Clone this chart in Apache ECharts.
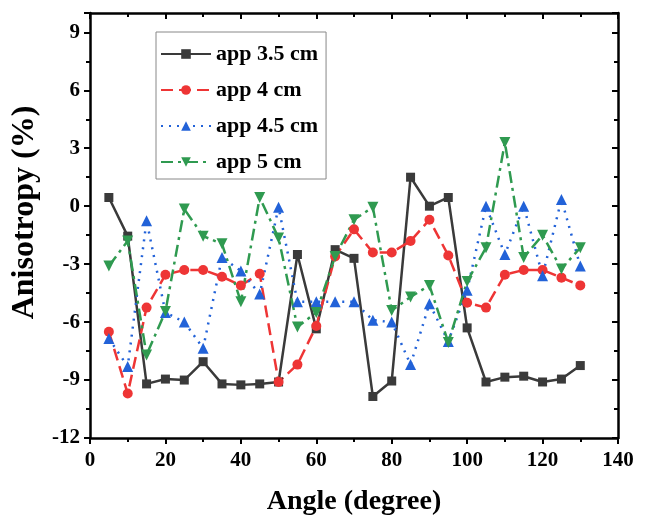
<!DOCTYPE html>
<html>
<head>
<meta charset="utf-8">
<script src="https://cdn.jsdelivr.net/npm/echarts@6/dist/echarts.min.js"></script>
<style>
  html, body { margin: 0; padding: 0; background: #fff; }
  #chart { width: 646px; height: 521px; }
</style>
</head>
<body>
<div id="chart"></div>
<script>
// angle (degree)
var angles = [5, 10, 15, 20, 25, 30, 35, 40, 45, 50, 55, 60, 65, 70, 75, 80, 85, 90, 95, 100, 105, 110, 115, 120, 125, 130];

// anisotropy (%)
var app35 = [0.45, -1.55, -9.2, -8.95, -9.0, -8.05, -9.2, -9.25, -9.2, -9.1, -2.5, -6.35, -2.25, -2.7, -9.85, -9.05, 1.5, 0.0, 0.45, -6.3, -9.1, -8.85, -8.8, -9.1, -8.95, -8.25];
var app4 = [-6.5, -9.7, -5.25, -3.55, -3.3, -3.3, -3.65, -4.1, -3.5, -9.1, -8.2, -6.2, -2.6, -1.2, -2.4, -2.4, -1.8, -0.7, -2.55, -5.0, -5.25, -3.55, -3.3, -3.3, -3.7, -4.1];
var app45 = [-6.85, -8.3, -0.75, -5.5, -6.0, -7.35, -2.65, -3.35, -4.55, -0.05, -4.95, -4.95, -4.95, -4.95, -5.9, -6.0, -8.2, -5.05, -7.0, -4.35, 0.0, -2.5, 0.0, -3.6, 0.35, -3.1];
var app5 = [-3.1, -1.8, -7.7, -5.45, -0.15, -1.55, -1.95, -4.95, 0.45, -1.65, -6.25, -5.5, -2.6, -0.7, -0.05, -5.4, -4.7, -4.1, -7.05, -3.9, -2.15, 3.3, -2.65, -1.5, -3.25, -2.15];

function pairs(x, y) {
  var out = [];
  for (var i = 0; i < x.length; i++) out.push([x[i], y[i]]);
  return out;
}

var font = "'Liberation Serif', 'Times New Roman', serif";

function makeSeries(name, values, color, dash, symbol, size, rotate) {
  return {
    name: name,
    type: "line",
    data: pairs(angles, values),
    symbol: symbol,
    symbolSize: size,
    symbolRotate: rotate || 0,
    itemStyle: { color: color },
    lineStyle: { color: color, width: 2.5, type: dash },
  };
}

function frameAxis(extra) {
  var ax = {
    type: "value",
    axisLine: { show: true, onZero: false, lineStyle: { color: "#000", width: 2.5 } },
    axisTick: { show: true, inside: true, length: 6, lineStyle: { width: 2 } },
    minorTick: { show: true, splitNumber: 2, length: 4, lineStyle: { color: "#000", width: 2 } },
    axisLabel: { show: false },
    splitLine: { show: false },
  };
  for (var k in extra) ax[k] = extra[k];
  return ax;
}

var chart = echarts.init(document.getElementById("chart"), null, { renderer: "canvas" });

var option = {
  animation: false,
  backgroundColor: "#fff",
  grid: { left: 90, right: 28, top: 13, bottom: 82 },
  legend: {
    orient: "vertical",
    left: 156,
    top: 32,
    padding: [11, 8, 6, 4],
    itemGap: 14,
    itemWidth: 50,
    itemHeight: 12,
    borderColor: "#888",
    borderWidth: 1,
    textStyle: { fontFamily: font, fontWeight: "bold", fontSize: 22, color: "#000" },
  },
  xAxis: [
    {
      type: "value",
      min: 0,
      max: 140,
      interval: 20,
      name: "Angle (degree)",
      nameLocation: "middle",
      nameGap: 50,
      nameTextStyle: { fontFamily: font, fontWeight: "bold", fontSize: 28, color: "#000" },
      axisLine: { show: true, onZero: false, lineStyle: { color: "#000", width: 2.5 } },
      axisTick: { show: true, inside: false, length: 6, lineStyle: { width: 2 } },
      minorTick: { show: true, splitNumber: 2, length: 4, lineStyle: { color: "#000", width: 2 } },
      axisLabel: { fontFamily: font, fontWeight: "bold", fontSize: 21, color: "#000", margin: 12 },
      splitLine: { show: false },
    },
    frameAxis({ position: "top", min: 0, max: 140, interval: 20 }),
  ],
  yAxis: [
    {
      type: "value",
      min: -12,
      max: 10,
      interval: 3,
      name: "Anisotropy (%)",
      nameLocation: "middle",
      nameGap: 43,
      nameTextStyle: { fontFamily: font, fontWeight: "bold", fontSize: 32, color: "#000", padding: [0, 0, 0, 26] },
      axisLine: { show: true, onZero: false, lineStyle: { color: "#000", width: 2.5 } },
      axisTick: { show: true, inside: false, length: 6, lineStyle: { width: 2 } },
      minorTick: { show: true, splitNumber: 2, length: 4, lineStyle: { color: "#000", width: 2 } },
      axisLabel: { fontFamily: font, fontWeight: "bold", fontSize: 21, color: "#000", margin: 10, showMaxLabel: false },
      splitLine: { show: false },
    },
    frameAxis({ position: "right", min: -12, max: 10, interval: 3 }),
  ],
  series: [
    makeSeries("app 3.5 cm", app35, "#3a3a3a", "solid", "rect", 9),
    makeSeries("app 4 cm", app4, "#ee3535", [12, 6], "circle", 10),
    makeSeries("app 4.5 cm", app45, "#2262d8", [2, 6], "triangle", 11),
    makeSeries("app 5 cm", app5, "#2f9a50", [12, 5, 3, 5], "triangle", 11, 180),
  ],
};

option && chart.setOption(option);
</script>
</body>
</html>
